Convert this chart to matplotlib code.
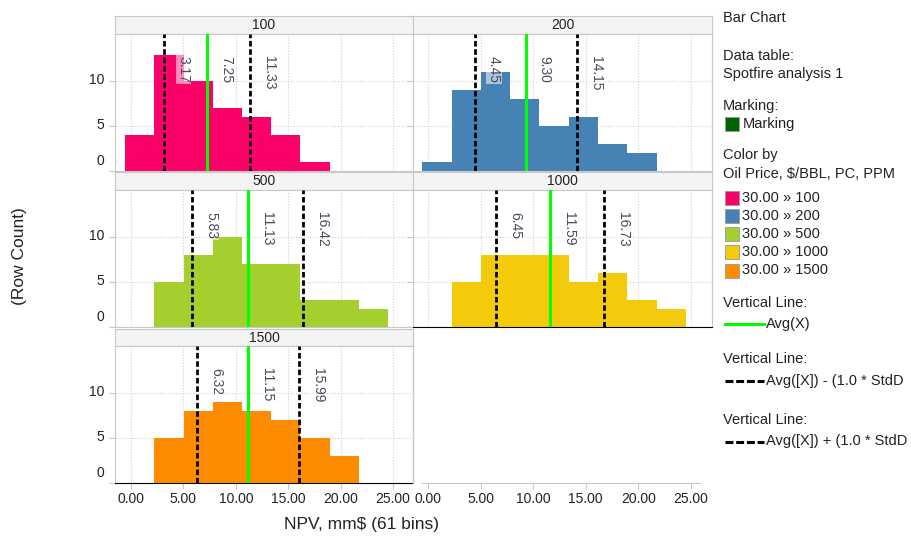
import numpy as np
import matplotlib
matplotlib.use("Agg")
import matplotlib.pyplot as plt
from matplotlib.patches import Rectangle
from matplotlib.lines import Line2D

plt.rcParams['font.family'] = ['Liberation Sans', 'DejaVu Sans']

# histogram bins (NPV, mm$)
bin_start = -0.55
bin_width = 2.785

panel_names = ['100', '200', '500', '1000', '1500']
counts_100 = [4, 13, 10, 7, 6, 4, 1, 0, 0]
counts_200 = [1, 9, 11, 8, 5, 6, 3, 2, 0]
counts_500 = [0, 5, 8, 10, 7, 7, 3, 3, 2]
counts_1000 = [0, 5, 8, 8, 8, 5, 6, 3, 2]
counts_1500 = [0, 5, 8, 9, 8, 7, 5, 3, 0]
all_counts = [counts_100, counts_200, counts_500, counts_1000, counts_1500]

avg_x = [7.25, 9.30, 11.13, 11.59, 11.15]
avg_minus_sd = [3.17, 4.45, 5.83, 6.45, 6.32]
avg_plus_sd = [11.33, 14.15, 16.42, 16.73, 15.99]

colors = ['#FA0068', '#4682B4', '#A5CF2E', '#F4CB0A', '#FF8C00']
legend_labels = ['30.00 \u00bb 100', '30.00 \u00bb 200', '30.00 \u00bb 500',
                 '30.00 \u00bb 1000', '30.00 \u00bb 1500']

xticks = [0, 5, 10, 15, 20, 25]
yticks = [0, 5, 10]

W, H = 912, 536
fig = plt.figure(figsize=(W / 100, H / 100), dpi=100)


def box(x0, y0, x1, y1):
    return [x0 / W, 1 - y1 / H, (x1 - x0) / W, (y1 - y0) / H]


cols = [(115, 413), (413, 712)]
rows = [(16, 34, 170.7), (172, 190, 326.7), (329, 346, 483)]
xlims = [(-1.52, 26.89), (-1.43, 27.0)]
slots = [(0, 0), (0, 1), (1, 0), (1, 1), (2, 0)]
grey = '#c8c8c8'
lab_col = '#4a4a5e'

for i, (r, c) in enumerate(slots):
    x0, x1 = cols[c]
    h0, p0, p1 = rows[r]

    # strip header
    hx = fig.add_axes(box(x0, h0, x1, p0))
    hx.set_facecolor('#f4f4f4')
    hx.set_xticks([])
    hx.set_yticks([])
    for s in hx.spines.values():
        s.set_color(grey)
    hx.text(0.5, 0.5, panel_names[i], ha='center', va='center', fontsize=10,
            color='#222222', transform=hx.transAxes)

    ax = fig.add_axes(box(x0, p0, x1, p1))
    edges = bin_start + bin_width * np.arange(len(all_counts[i]))
    ax.bar(edges, all_counts[i], width=bin_width, align='edge',
           color=colors[i], linewidth=0, zorder=2)
    ax.set_xlim(*xlims[c])
    ax.set_ylim(0, 15.3)
    ax.set_xticks(xticks)
    ax.set_yticks(yticks)
    ax.grid(True, color='#d0d0d0', linestyle=(0, (1, 1.5)), linewidth=0.8, zorder=0)
    for s in ax.spines.values():
        s.set_color(grey)
    if i == 3 or i == 4:
        ax.spines['bottom'].set_color('black')
    ax.tick_params(axis='y', length=4, color=grey, labelleft=False)
    ax.tick_params(axis='x', length=0, labelbottom=False)
    if i == 4:
        ax.tick_params(axis='x', length=4, color=grey, labelbottom=True,
                       labelsize=10, labelcolor='#222222', pad=2.5)
        ax.set_xticklabels(['%.2f' % t for t in xticks])
    if c == 0:
        for t in yticks:
            dy = 10 if t == 0 else 1
            ax.annotate(str(t), xy=(0, t), xycoords=('axes fraction', 'data'),
                        xytext=(-11, dy), textcoords='offset pixels',
                        ha='right', va='center', fontsize=10, color='#222222')

    # vertical lines
    ax.axvline(avg_x[i], color='#00FF00', linewidth=2.2, zorder=3)
    for v in (avg_minus_sd[i], avg_plus_sd[i]):
        ax.axvline(v, color='black', linewidth=2.0, dashes=(2.0, 1.0), zorder=3)
    for v in (avg_minus_sd[i], avg_x[i], avg_plus_sd[i]):
        ax.annotate('%.2f' % v, xy=(v, 1 - 22 / 137.0),
                    xycoords=('data', 'axes fraction'),
                    xytext=(19, 0), textcoords='offset pixels',
                    ha='center', va='top', rotation=270, fontsize=10,
                    color=lab_col, zorder=4,
                    bbox=dict(boxstyle='square,pad=0.05', fc='white',
                              ec='none', alpha=0.55))

# empty sixth cell: only the x axis
ex = fig.add_axes(box(cols[1][0], rows[2][1], cols[1][1], rows[2][2]))
ex.set_xlim(*xlims[1])
ex.set_ylim(0, 1)
ex.patch.set_visible(False)
for side in ('top', 'right', 'left'):
    ex.spines[side].set_visible(False)
ex.spines['bottom'].set_color(grey)
ex.spines['bottom'].set_bounds(-0.55, 25.9)
ex.set_yticks([])
ex.set_xticks(xticks)
ex.set_xticklabels(['%.2f' % t for t in xticks])
ex.tick_params(axis='x', length=4, color=grey, labelsize=10,
               labelcolor='#222222', pad=2.5)
fig.add_artist(Line2D([413 / W, 413 / W], [1 - 346 / H, 1 - 483 / H],
                      color=grey, linewidth=1))

# axis titles
fig.text(20 / W, 1 - 256 / H, '(Row Count)', rotation=90, ha='center',
         va='center', fontsize=12.5, color='#222222')
fig.text(362 / W, 1 - 525 / H, 'NPV, mm$ (61 bins)', ha='center',
         va='center', fontsize=12.5, color='#222222')

# legend panel
lx = 723


def ltext(y, s, x=lx):
    fig.text(x / W, 1 - y / H, s, ha='left', va='center', fontsize=10.5,
             color='#222222')


def swatch(y, col):
    fig.add_artist(Rectangle((724.5 / W, 1 - (y + 7) / H), 14.5 / W, 14 / H,
                             facecolor=col, edgecolor='#999999',
                             linewidth=0.6, transform=fig.transFigure))


ltext(18.5, 'Bar Chart')
ltext(56, 'Data table:')
ltext(74, 'Spotfire analysis 1')
ltext(106, 'Marking:')
swatch(124, '#006400')
ltext(124, 'Marking', x=742.5)
ltext(155.5, 'Color by')
ltext(173.5, 'Oil Price, $/BBL, PC, PPM')
for k, ys in enumerate([197.5, 215.8, 234, 252.2, 270.5]):
    swatch(ys, colors[k])
    ltext(ys, legend_labels[k], x=742.5)

ltext(303, 'Vertical Line:')
fig.add_artist(Line2D([725 / W, 764 / W], [1 - 324 / H] * 2, color='#00FF00',
                      linewidth=2.2))
ltext(324, 'Avg(X)', x=766)

ltext(359, 'Vertical Line:')
fig.add_artist(Line2D([725 / W, 764 / W], [1 - 380.5 / H] * 2, color='black',
                      linewidth=2.2, dashes=(2.6, 0.9)))
ltext(380.5, 'Avg([X]) - (1.0 * StdD', x=766)

ltext(420, 'Vertical Line:')
fig.add_artist(Line2D([725 / W, 764 / W], [1 - 441.5 / H] * 2, color='black',
                      linewidth=2.2, dashes=(2.6, 0.9)))
ltext(441.5, 'Avg([X]) + (1.0 * StdD', x=766)

fig.savefig('out.png', dpi=100)
